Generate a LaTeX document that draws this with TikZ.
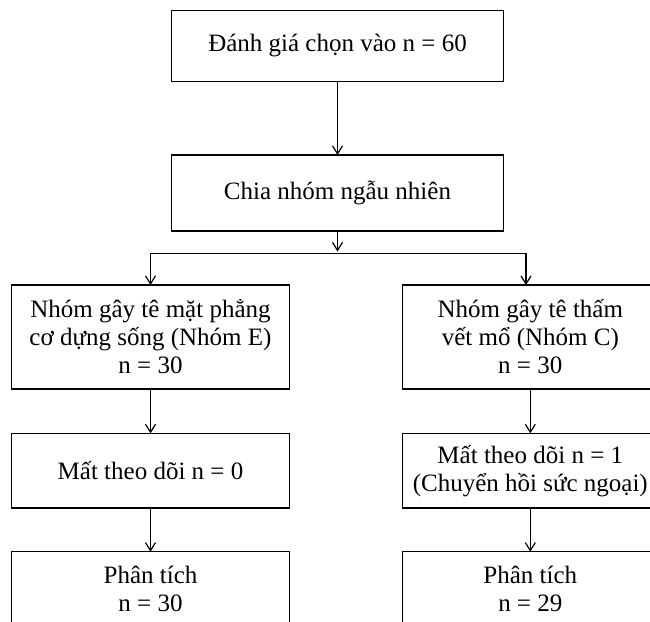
\documentclass[tikz,border=0pt]{standalone}
\usepackage{fontspec}
\setmainfont{Liberation Serif}
\usetikzlibrary{arrows.meta}
\tikzset{
  flowbox/.style={draw,line width=0.6pt,align=center,inner sep=0pt,outer sep=0pt,
    font=\fontsize{12.5}{14}\selectfont},
  flowline/.style={line width=0.6pt}
}
\begin{document}
\begin{tikzpicture}[x=0.5pt,y=-0.5pt,>={Straight Barb[length=4pt,width=5pt]}]
    \clip (0,0) rectangle (650,622);
    % top part
    \node[flowbox,minimum width=165.8pt,minimum height=35.7pt] (entry) at (337.5,46) {Đánh giá chọn vào n = 60};
    \node[flowbox,minimum width=165.8pt,minimum height=38pt] (rand) at (337.5,193) {Chia nhóm ngẫu nhiên};
    \coordinate (split) at (337.5,251.5);
    \coordinate (splitE) at (150.5,253.3);
    \coordinate (splitC) at (526,253.3);
    % group E
    \node[flowbox,minimum width=138.8pt,minimum height=52pt] (grpE) at (150.5,337) {Nhóm gây tê mặt phẳng\\cơ dựng sống (Nhóm E)\\n = 30};
    \node[flowbox,minimum width=138.8pt,minimum height=37.35pt] (lossE) at (150.5,470.7) {Mất theo dõi n = 0};
    \node[flowbox,minimum width=138.8pt,minimum height=37.6pt] (anaE) at (150.5,589.3) {Phân tích\\n = 30};
    % group C
    \node[flowbox,minimum width=127.7pt,minimum height=52pt] (grpC) at (530.3,337) {Nhóm gây tê thấm\\vết mổ (Nhóm C)\\n = 30};
    \node[flowbox,minimum width=127.7pt,minimum height=37.35pt] (lossC) at (530.3,470.7) {Mất theo dõi n = 1\\(Chuyển hồi sức ngoại)};
    \node[flowbox,minimum width=127.7pt,minimum height=37.6pt] (anaC) at (530.3,589.3) {Phân tích\\n = 29};
    % connectors
    \draw[flowline,->] (entry) -- (rand);
    \draw[flowline,->] (rand) -- (split);
    \draw[flowline] (splitE) -- (splitC);
    \draw[flowline,->] (splitE) -- (splitE |- grpE.north);
    \draw[flowline,->] (splitC) -- (splitC |- grpC.north);
    \draw[flowline,->] (grpE) -- (lossE);
    \draw[flowline,->] (lossE) -- (anaE);
    \draw[flowline,->] (grpC) -- (lossC);
    \draw[flowline,->] (lossC) -- (anaC);
  \end{tikzpicture}
\end{document}
